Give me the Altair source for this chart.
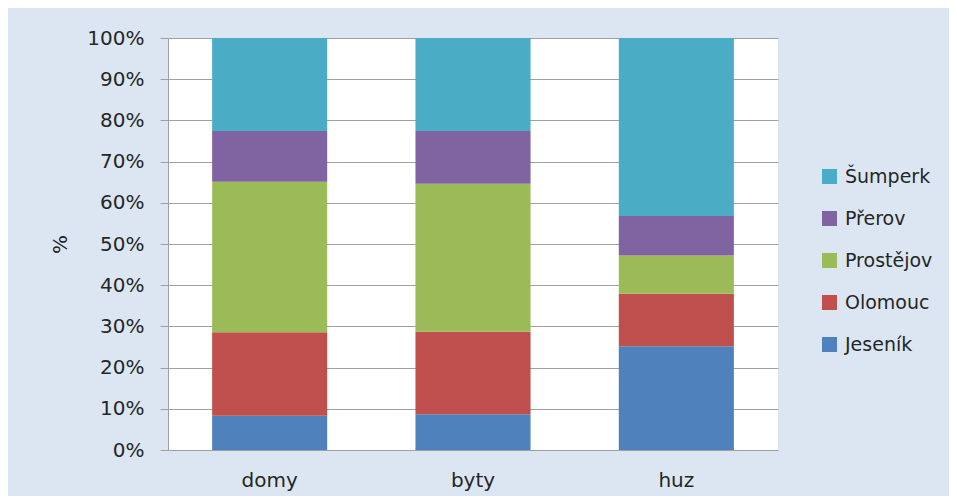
import altair as alt
import pandas as pd

categories = ["domy", "byty", "huz"]
series = ["Jeseník", "Olomouc", "Prostějov", "Přerov", "Šumperk"]
jesenik = [8.3, 8.7, 25.2]
olomouc = [20.3, 20.0, 12.7]
prostejov = [36.5, 35.9, 9.3]
prerov = [12.3, 12.8, 9.6]
sumperk = [22.6, 22.6, 43.2]
colors = ["#4f81bd", "#c0504d", "#9bbb59", "#8064a2", "#4bacc6"]
y_ticks = [0, 0.1, 0.2, 0.3, 0.4, 0.5, 0.6, 0.7, 0.8, 0.9, 1.0]

rows = []
for si, (name, vals) in enumerate(zip(series, [jesenik, olomouc, prostejov, prerov, sumperk])):
    for c, v in zip(categories, vals):
        rows.append({"kat": c, "okres": name, "hodnota": v, "poradi": si})
df = pd.DataFrame(rows)

legend_order = series[::-1]
legend_colors = colors[::-1]

FONT = "DejaVu Sans"
TXT = "#262626"
GRID = "#a0a0a0"

chart = alt.Chart(df).mark_bar().encode(
    x=alt.X("kat:N", sort=categories,
            scale=alt.Scale(paddingInner=0.434, paddingOuter=0.217),
            axis=alt.Axis(title=None, labelAngle=0, ticks=False, labelPadding=20,
                          domainColor=GRID, labelFontSize=20, labelFont=FONT,
                          labelColor=TXT, grid=False)),
    y=alt.Y("hodnota:Q", stack="normalize",
            scale=alt.Scale(domain=[0, 1], nice=False),
            axis=alt.Axis(title="%", values=y_ticks, format=".0%", tickSize=8,
                          tickColor=GRID, domainColor=GRID, gridColor=GRID,
                          labelPadding=16, labelFontSize=20, labelFont=FONT,
                          labelColor=TXT, titleFontSize=20, titleFont=FONT,
                          titleColor=TXT, titleFontWeight="normal",
                          titleX=-108, titleY=206, titleBaseline="middle")),
    color=alt.Color("okres:N",
                    scale=alt.Scale(domain=legend_order, range=legend_colors),
                    legend=alt.Legend(title=None, orient="none", legendX=652, legendY=129,
                                      symbolType="square", symbolSize=225,
                                      symbolStrokeWidth=0, labelFontSize=19,
                                      labelFont=FONT, labelColor=TXT, labelOffset=6,
                                      rowPadding=22, padding=0)),
    order=alt.Order("poradi:Q", sort="ascending"),
).properties(
    width=610, height=412,
    background="#dce6f2",
    padding={"left": 160, "top": 30, "right": 171, "bottom": 46},
    autosize=alt.AutoSizeParams(type="none"),
).configure_view(fill="white", stroke=None)

chart.save("out.html", embed_options={"renderer": "svg", "actions": False})
